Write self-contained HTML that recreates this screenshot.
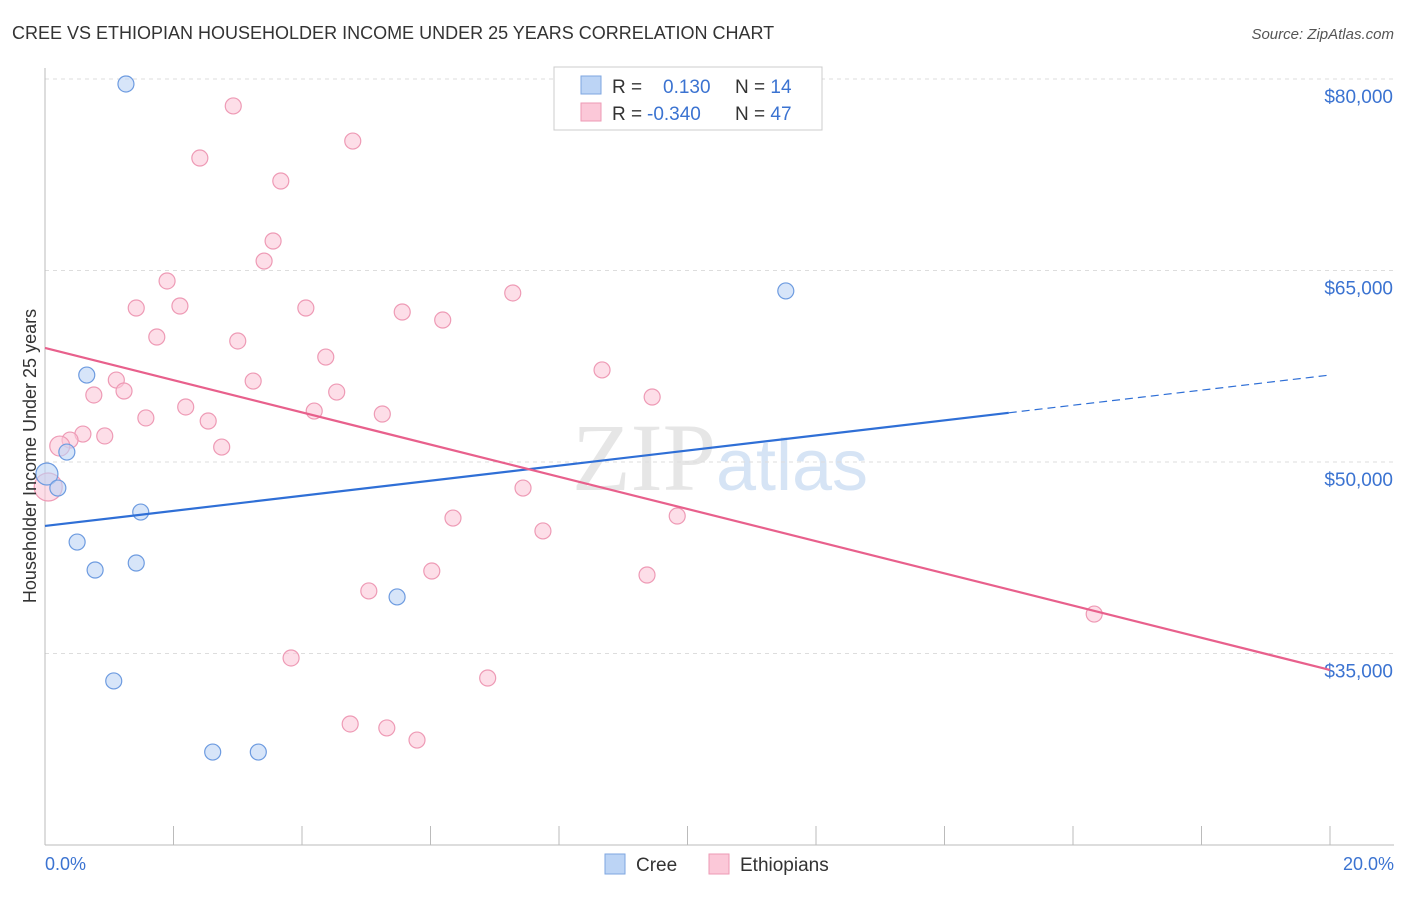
<!DOCTYPE html>
<html><head><meta charset="utf-8"><style>
body{margin:0;background:#fff;font-family:"Liberation Sans",sans-serif;}
</style></head><body>
<svg width="1406" height="892" xmlns="http://www.w3.org/2000/svg" font-family="Liberation Sans, sans-serif">
<text x="12" y="39" font-size="18" fill="#333">CREE VS ETHIOPIAN HOUSEHOLDER INCOME UNDER 25 YEARS CORRELATION CHART</text>
<text x="1394" y="39" font-size="15" fill="#555" text-anchor="end" font-style="italic">Source: ZipAtlas.com</text>
<text x="720" y="490" font-size="96" fill="#e6e6e6" text-anchor="middle" font-family="Liberation Serif, serif">ZIP<tspan fill="#d6e4f5" font-family="Liberation Sans, sans-serif" font-size="72">atlas</tspan></text>
<g id="grid"></g>
<g id="axes"></g>
<g id="marks"></g>
<text x="36" y="456" font-size="18" fill="#333" text-anchor="middle" transform="rotate(-90 36 456)">Householder Income Under 25 years</text>
<text x="45" y="870" font-size="18" fill="#3b73d1">0.0%</text>
<text x="1394" y="870" font-size="18" fill="#3b73d1" text-anchor="end">20.0%</text>
<g>
<rect x="554" y="67" width="268" height="63" fill="#fff" stroke="#ccc"/>
<rect x="581" y="76" width="20" height="18" fill="#bcd4f5" stroke="#7ea6e0"/>
<rect x="581" y="103" width="20" height="18" fill="#fbc8d8" stroke="#ee9ab5"/>
<text x="612" y="93" font-size="19" fill="#333">R = <tspan fill="#3b73d1" x="663">0.130</tspan><tspan x="735" fill="#333">N = </tspan><tspan fill="#3b73d1">14</tspan></text>
<text x="612" y="120" font-size="19" fill="#333">R = <tspan fill="#3b73d1" x="647">-0.340</tspan><tspan x="735" fill="#333">N = </tspan><tspan fill="#3b73d1">47</tspan></text>
</g>
<g>
<rect x="605" y="854" width="20" height="20" fill="#bcd4f5" stroke="#7ea6e0"/>
<text x="636" y="871" font-size="19" fill="#333">Cree</text>
<rect x="709" y="854" width="20" height="20" fill="#fbc8d8" stroke="#ee9ab5"/>
<text x="740" y="871" font-size="19" fill="#333">Ethiopians</text>
</g>
</svg>
<script>
const yTicks=[80000,65000,50000,35000];
const yTickLabels=["$80,000","$65,000","$50,000","$35,000"];
const xTicks=[0,2,4,6,8,10,12,14,16,18,20];
const creeX=[1.26,11.53,0.65,0.34,0.03,0.20,1.49,0.50,1.42,0.78,5.48,1.07,2.61,3.32];
const creeY=[79610,63400,56810,50780,49060,47960,46080,43730,42090,41540,39430,32850,27280,27280];
const ethX=[2.93,4.79,2.41,3.67,3.55,3.41,1.90,7.28,1.42,2.10,4.06,5.56,6.19,1.74,3.00,4.37,8.67,1.11,3.24,0.76,1.23,4.54,9.45,2.19,4.19,5.25,1.57,2.54,0.59,0.93,0.39,0.23,2.75,7.44,0.05,6.35,9.84,7.75,6.02,9.37,5.04,16.33,3.83,6.89,4.75,5.32,5.79];
const ethY=[77890,75140,73810,72010,67310,65740,64180,63240,62060,62220,62060,61750,61120,59790,59480,58220,57210,56420,56340,55250,55560,55480,55090,54310,53990,53760,53450,53210,52190,52040,51720,51250,51170,47960,48040,45610,45770,44600,41460,41150,39900,38090,34650,33080,29480,29170,28220];
const creeTrend=[44990,56810];
const ethTrend=[58930,33710];
const creeSolidEnd=15.0;
const NS="http://www.w3.org/2000/svg";
const xs=v=>45+v*64.25;
const ys=v=>462-(v-50000)*191.5/15000;
function mk(t,a,p){const e=document.createElementNS(NS,t);for(const k in a)e.setAttribute(k,a[k]);p.appendChild(e);return e;}
const grid=document.getElementById('grid'),axes=document.getElementById('axes'),marks=document.getElementById('marks');
yTicks.forEach((v,i)=>{
 const l=mk('line',{x1:45,x2:1394,y1:ys(v),y2:ys(v),stroke:'#ddd','stroke-dasharray':'4 4'},grid);
 
 
 const t=mk('text',{x:1393,y:ys(v)+24,'font-size':19,fill:'#3b73d1','text-anchor':'end'},grid);
 t.textContent=yTickLabels[i];
 
 
});
const ya=mk('line',{x1:45,x2:45,y1:68,y2:845,stroke:'#bbb'},axes);


const xa=mk('line',{x1:45,x2:1394,y1:845,y2:845,stroke:'#bbb'},axes);


xTicks.forEach(v=>{
 const t=mk('line',{x1:xs(v),x2:xs(v),y1:826,y2:845,stroke:'#bbb'},axes);
 
 
});
function dot(x,y,fill,stroke,r){
 const c=mk('circle',{cx:xs(x),cy:ys(y),r:r,fill:fill,stroke:stroke,'stroke-width':1.2,'fill-opacity':0.6},marks);
 return c;
}
ethX.forEach((x,i)=>{
 const c=dot(x,ethY[i],'#fbc8d8','#ee9ab5',x<0.1?14:(x<0.3?10:8));
 
 
});
creeX.forEach((x,i)=>{
 const c=dot(x,creeY[i],'#bcd4f5','#6d9be0',x<0.1?11:8);
 
 
});
const cy=x=>creeTrend[0]+(creeTrend[1]-creeTrend[0])*x/20;
const l1=mk('line',{x1:xs(0),y1:ys(cy(0)),x2:xs(creeSolidEnd),y2:ys(cy(creeSolidEnd)),stroke:'#2f6fd6','stroke-width':2.2},marks);


const l2=mk('line',{x1:xs(creeSolidEnd),y1:ys(cy(creeSolidEnd)),x2:xs(20),y2:ys(cy(20)),stroke:'#2f6fd6','stroke-width':1.2,'stroke-dasharray':'8 5'},marks);


const l3=mk('line',{x1:xs(0),y1:ys(ethTrend[0]),x2:xs(20),y2:ys(ethTrend[1]),stroke:'#e8608c','stroke-width':2.2},marks);


</script>
</body></html>
